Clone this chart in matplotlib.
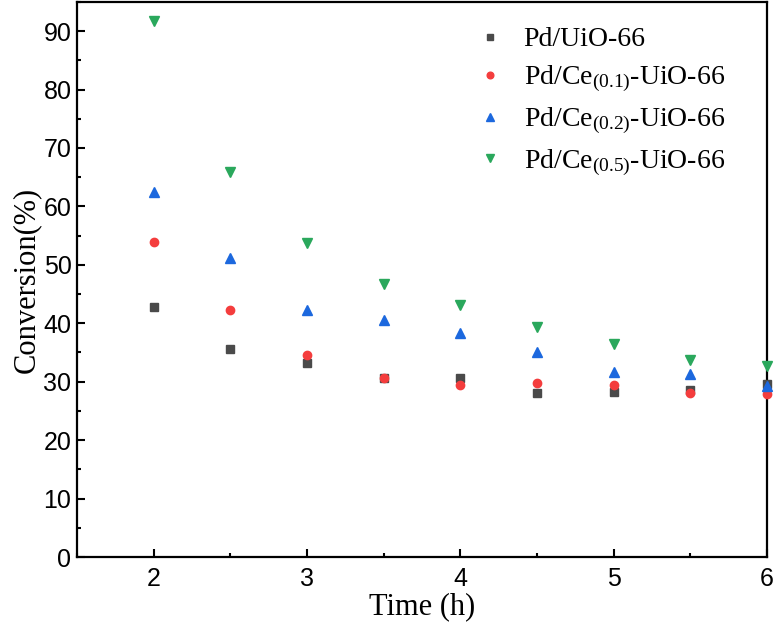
import matplotlib
matplotlib.use("Agg")
import matplotlib.pyplot as plt
from matplotlib.ticker import MultipleLocator

# Data
time_h = [2, 2.5, 3, 3.5, 4, 4.5, 5, 5.5, 6]
pd_uio = [42.8, 35.6, 33.2, 30.6, 30.6, 28.1, 28.3, 28.6, 29.6]
pd_ce01 = [53.9, 42.3, 34.6, 30.7, 29.5, 29.8, 29.5, 28.1, 27.9]
pd_ce02 = [62.5, 51.2, 42.3, 40.6, 38.3, 35.1, 31.7, 31.3, 29.3]
pd_ce05 = [91.7, 65.9, 53.8, 46.7, 43.2, 39.4, 36.5, 33.7, 32.7]

labels = ["Pd/UiO-66",
          r"Pd/Ce$_{\mathrm{(0.1)}}$-UiO-66",
          r"Pd/Ce$_{\mathrm{(0.2)}}$-UiO-66",
          r"Pd/Ce$_{\mathrm{(0.5)}}$-UiO-66"]
series = [pd_uio, pd_ce01, pd_ce02, pd_ce05]
markers = ["s", "o", "^", "v"]
sizes = [5.5, 6, 7, 7]
colors = ["#4a4a4a", "#f43d3d", "#1c68de", "#2aa85c"]

plt.rcParams["mathtext.fontset"] = "custom"
plt.rcParams["mathtext.rm"] = "Liberation Serif"
plt.rcParams["mathtext.it"] = "Liberation Serif:italic"

fig = plt.figure(figsize=(7.74, 6.36), dpi=100)
ax = fig.add_axes([0.0995, 0.1242, 0.8915, 0.8728])

for y, lab, m, ms, c in zip(series, labels, markers, sizes, colors):
    ax.plot(time_h, y, linestyle="none", marker=m, markersize=ms,
            color=c, label=lab, clip_on=False, zorder=3)

ax.set_xlim(1.5, 6)
ax.set_ylim(0, 95)
ax.xaxis.set_major_locator(MultipleLocator(1))
ax.xaxis.set_minor_locator(MultipleLocator(0.5))
ax.yaxis.set_major_locator(MultipleLocator(10))
ax.yaxis.set_minor_locator(MultipleLocator(5))

ax.tick_params(which="both", direction="in", top=False, right=False,
               width=1.5)
ax.tick_params(which="major", length=6, labelsize=18)
ax.tick_params(axis="y", which="major", pad=4)
ax.tick_params(axis="x", which="major", pad=7)
ax.tick_params(which="minor", length=3)
for lbl in ax.get_xticklabels() + ax.get_yticklabels():
    lbl.set_family("Liberation Sans")

for s in ax.spines.values():
    s.set_linewidth(1.6)

ax.set_xlabel("Time (h)", family="Liberation Serif", fontsize=22,
              labelpad=1)
ax.set_ylabel("Conversion(%)", family="Liberation Serif", fontsize=22,
              labelpad=2)

leg = ax.legend(loc="upper right", bbox_to_anchor=(0.967, 0.99),
                frameon=False, prop={"family": "Liberation Serif", "size": 20},
                handletextpad=0.22, labelspacing=0.4, markerscale=0.8,
                borderaxespad=0.3)

fig.savefig("out.png", dpi=100)
